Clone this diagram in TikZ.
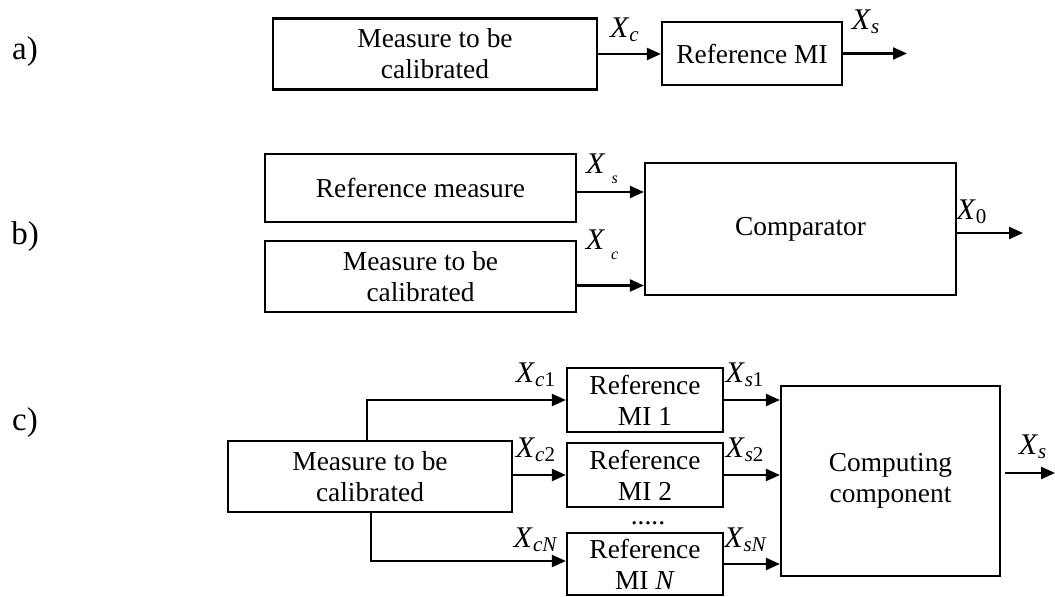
\documentclass[tikz,border=0pt]{standalone}
\usepackage{fontspec}
\setmainfont{Liberation Serif}
\usetikzlibrary{arrows.meta}
\newcommand{\Xlab}[1]{\textit{X}\textsubscript{#1}}
\newcommand{\Xlow}[1]{\textit{X}\hspace{3pt}\raisebox{-5pt}{\fontsize{8}{8}\selectfont\itshape #1}}
\begin{document}
\begin{tikzpicture}[x=0.5pt, y=-0.5pt,
  font=\fontsize{13.7}{15.5}\selectfont,
  blk/.style={draw, line width=1.1pt, inner sep=0pt, align=center},
  arr/.style={-{Triangle[length=7pt,width=6pt]}, line width=1.1pt},
  lbl/.style={inner sep=0pt, font=\fontsize{15}{15}\selectfont},
  sec/.style={inner sep=0pt, font=\fontsize{16.5}{16.5}\selectfont}]
\useasboundingbox (0,0) rectangle (1055,597);

% section labels
\node[sec] (la) at (25,52) {a)};
\node[sec] (lb) at (25,237) {b)};
\node[sec] (lc) at (25,423) {c)};

% ---- a)
\node[blk, minimum width=162pt, minimum height=35.5pt] (a1) at (435,54) {Measure to be\\calibrated};
\node[blk, minimum width=90pt, minimum height=31.5pt] (a2) at (752,53.5) {Reference MI};
\coordinate (aout) at (907,53.5);
\draw[arr] (a1.east) -- (a1.east -| a2.west);
\draw[arr] (a2.east) -- (aout);
\node[lbl] (axc) at (625,30) {\Xlab{\textit{c}}};
\node[lbl] (axs) at (866,22) {\Xlab{\textit{s}}};

% ---- b)
\node[blk, minimum width=155.5pt, minimum height=34pt] (bref) at (420.5,188) {Reference measure};
\node[blk, minimum width=155.5pt, minimum height=35.5pt] (bmeas) at (420.5,276.5) {Measure to be\\calibrated};
\node[blk, minimum width=155.5pt, minimum height=66pt] (bcomp) at (800.5,229) {Comparator};
\coordinate (bout) at (1023,233);
\draw[arr] ([yshift=-2pt]bref.east) -- ([yshift=-2pt]bref.east -| bcomp.west);
\draw[arr] ([yshift=-4.5pt]bmeas.east) -- ([yshift=-4.5pt]bmeas.east -| bcomp.west);
\draw[arr] (bcomp.east |- bout) -- (bout);
\node[lbl] (bxs) at (602,169) {\Xlow{s}};
\node[lbl] (bxc) at (602,245) {\Xlow{c}};
\node[lbl] (bx0) at (972,212) {\Xlab{0}};

% ---- c)
\node[blk, minimum width=142pt, minimum height=35.5pt] (cm) at (370,476.5) {Measure to be\\calibrated};
\node[blk, minimum width=78pt, minimum height=32pt] (r1) at (645,400) {Reference\\MI 1};
\node[blk, minimum width=78pt, minimum height=32pt] (r2) at (645,475) {Reference\\MI 2};
\node[blk, minimum width=78pt, minimum height=31pt] (rN) at (645,564) {Reference\\MI \textit{N}};
\node[blk, minimum width=109.5pt, minimum height=95pt] (cc) at (890.5,481) {Computing\\component};
\node[inner sep=0pt, text height=1.5pt, text depth=0pt] (dots) at (648,523) {.....};

\coordinate (bu) at (367,0);
\coordinate (bd) at (371,0);
\draw[arr] (cm.north -| bu) |- (r1.west);
\draw[arr] (cm.south -| bd) |- ([yshift=1.5pt]rN.west);
\draw[arr] (cm.east |- r2.west) -- (r2.west);
\draw[arr] (r1.east) -- (r1.east -| cc.west);
\draw[arr] (r2.east) -- (r2.east -| cc.west);
\draw[arr] (rN.east) -- (rN.east -| cc.west);
\coordinate (co1) at (1005,473);
\coordinate (co2) at (1055,473);
\draw[arr] (co1) -- (co2);

\node[lbl] (xc1) at (536,375) {\Xlab{\textit{c}1}};
\node[lbl] (xc2) at (536,450) {\Xlab{\textit{c}2}};
\node[lbl] (xcN) at (536,540) {\Xlab{\textit{cN}}};
\node[lbl] (xs1) at (745,375) {\Xlab{\textit{s}1}};
\node[lbl] (xs2) at (745,450) {\Xlab{\textit{s}2}};
\node[lbl] (xsN) at (746,540) {\Xlab{\textit{sN}}};
\node[lbl] (xso) at (1033,447) {\Xlab{\textit{s}}};
\end{tikzpicture}
\end{document}
